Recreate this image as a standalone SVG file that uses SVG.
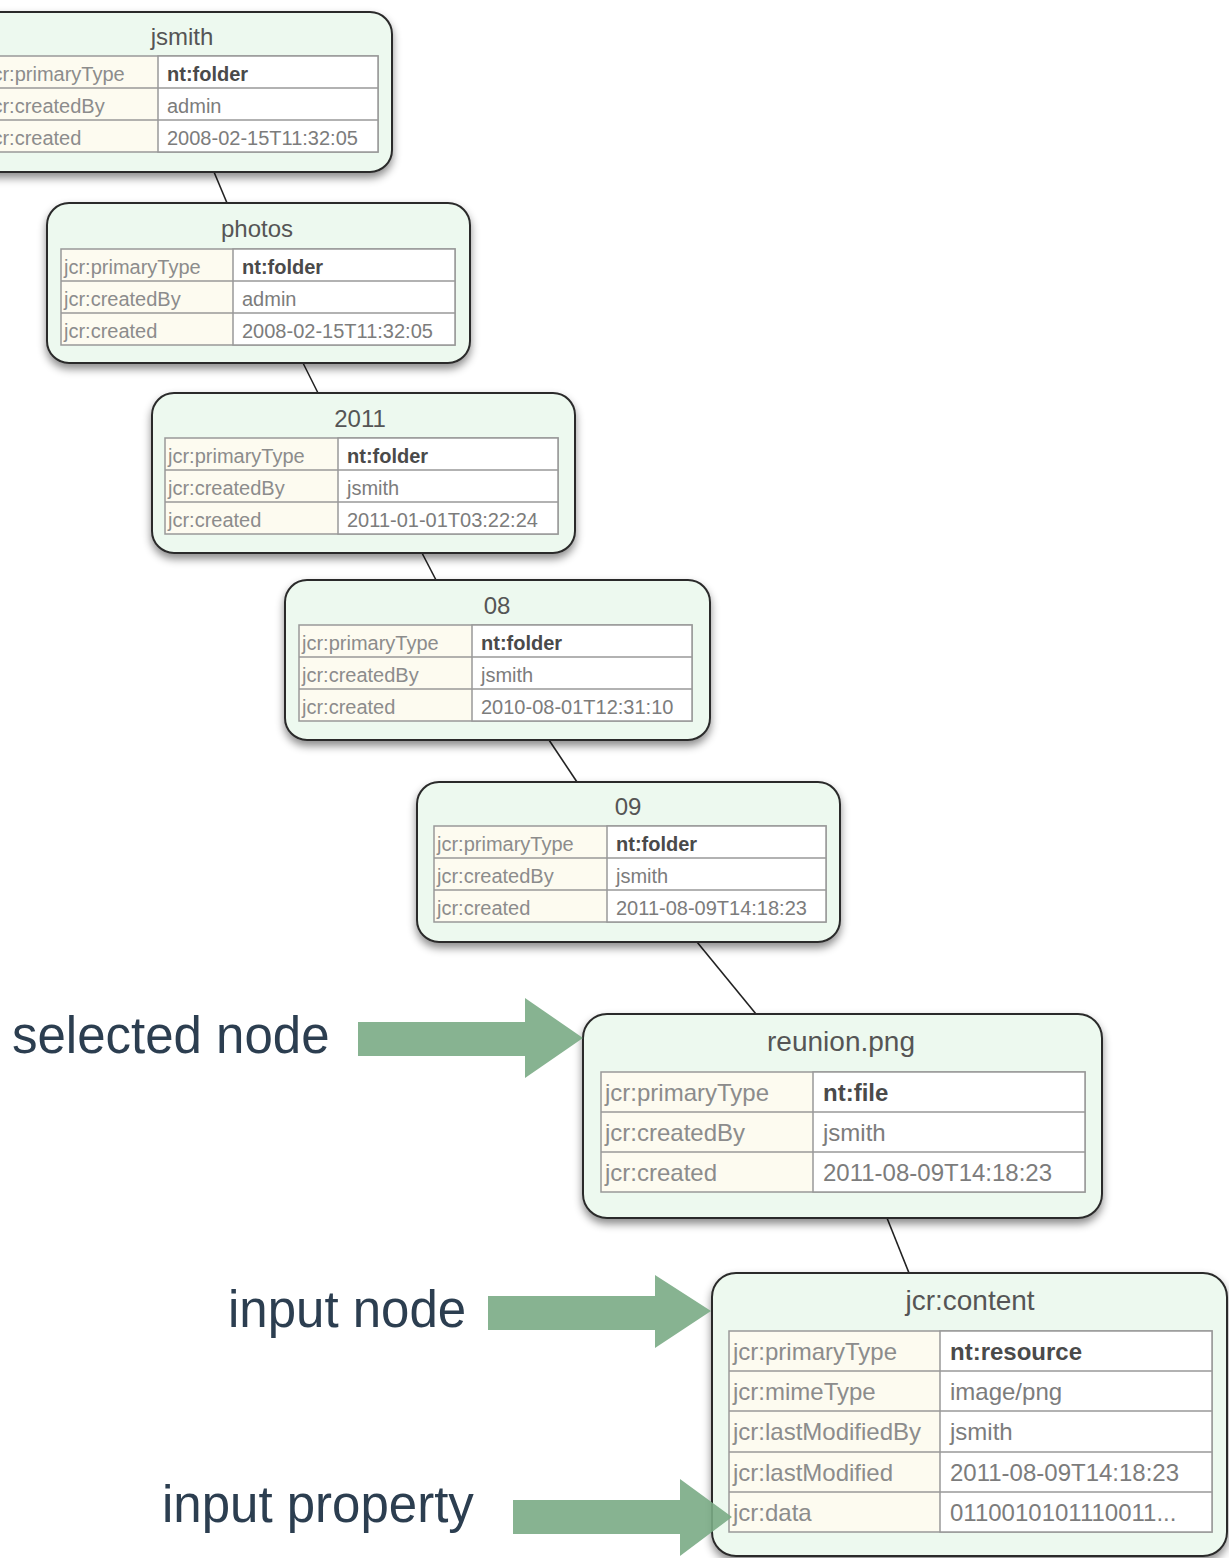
<svg xmlns="http://www.w3.org/2000/svg" width="1229" height="1558" viewBox="0 0 1229 1558">
<style>
.box{fill:#edf9ef;stroke:#2b2b2b;stroke-width:2}
.tbl{fill:#fdfbf0;stroke:#999;stroke-width:1.5}
.val{fill:#ffffff;stroke:#999;stroke-width:1.5}
.ln{stroke:#999;stroke-width:1.5}
.t{font-family:"Liberation Sans",Arial,sans-serif;fill:#555;text-anchor:middle}
.k{font-family:"Liberation Sans",Arial,sans-serif;fill:#8c8c8c}
.v{font-family:"Liberation Sans",Arial,sans-serif;fill:#7c7c7c}
.b{font-family:"Liberation Sans",Arial,sans-serif;fill:#4a4a4a;font-weight:bold}
.s{font-size:20px}
.st{font-size:24px}
.l{font-size:24px}
.lt{font-size:28px}
.lab{font-family:"Liberation Sans",Arial,sans-serif;font-size:51px;fill:#2c3e50}
.edge{stroke:#222;stroke-width:1.6;fill:none}
.arr{fill:#7aab85;opacity:0.9}
</style>
<defs>
<filter id="sh" x="-10%" y="-10%" width="120%" height="130%">
<feDropShadow dx="0" dy="5" stdDeviation="4" flood-color="#000" flood-opacity="0.45"/>
</filter>
</defs>
<rect width="1229" height="1558" fill="#ffffff"/>

<g id="connectors">
<line class="edge" x1="214" y1="172" x2="227" y2="203"/>
<line class="edge" x1="303" y1="363" x2="318" y2="393"/>
<line class="edge" x1="422" y1="553" x2="436" y2="580"/>
<line class="edge" x1="549" y1="740" x2="577" y2="782"/>
<line class="edge" x1="697" y1="942" x2="756" y2="1014"/>
<line class="edge" x1="887" y1="1218" x2="909" y2="1273"/>
</g>

<g id="node-jsmith">
<rect class="box" x="-28" y="12" width="420" height="160" rx="22" filter="url(#sh)"/>
<text class="t st" x="182" y="45">jsmith</text>
<rect class="tbl" x="-15" y="56" width="393" height="96"/>
<rect class="val" x="158" y="56" width="220" height="96"/>
<line class="ln" x1="-15" y1="88" x2="378" y2="88"/>
<line class="ln" x1="-15" y1="120" x2="378" y2="120"/>
<text class="k s" x="-12" y="81">jcr:primaryType</text>
<text class="k s" x="-12" y="113">jcr:createdBy</text>
<text class="k s" x="-12" y="145">jcr:created</text>
<text class="b s" x="167" y="81">nt:folder</text>
<text class="v s" x="167" y="113">admin</text>
<text class="v s" x="167" y="145">2008-02-15T11:32:05</text>
</g>

<g id="node-photos">
<rect class="box" x="47" y="203" width="423" height="160" rx="22" filter="url(#sh)"/>
<text class="t st" x="257" y="237">photos</text>
<rect class="tbl" x="61" y="249" width="394" height="96"/>
<rect class="val" x="233" y="249" width="222" height="96"/>
<line class="ln" x1="61" y1="281" x2="455" y2="281"/>
<line class="ln" x1="61" y1="313" x2="455" y2="313"/>
<text class="k s" x="64" y="274">jcr:primaryType</text>
<text class="k s" x="64" y="306">jcr:createdBy</text>
<text class="k s" x="64" y="338">jcr:created</text>
<text class="b s" x="242" y="274">nt:folder</text>
<text class="v s" x="242" y="306">admin</text>
<text class="v s" x="242" y="338">2008-02-15T11:32:05</text>
</g>

<g id="node-2011">
<rect class="box" x="152" y="393" width="423" height="160" rx="22" filter="url(#sh)"/>
<text class="t st" x="360" y="427">2011</text>
<rect class="tbl" x="165" y="438" width="393" height="96"/>
<rect class="val" x="338" y="438" width="220" height="96"/>
<line class="ln" x1="165" y1="470" x2="558" y2="470"/>
<line class="ln" x1="165" y1="502" x2="558" y2="502"/>
<text class="k s" x="168" y="463">jcr:primaryType</text>
<text class="k s" x="168" y="495">jcr:createdBy</text>
<text class="k s" x="168" y="527">jcr:created</text>
<text class="b s" x="347" y="463">nt:folder</text>
<text class="v s" x="347" y="495">jsmith</text>
<text class="v s" x="347" y="527">2011-01-01T03:22:24</text>
</g>

<g id="node-08">
<rect class="box" x="285" y="580" width="425" height="160" rx="22" filter="url(#sh)"/>
<text class="t st" x="497" y="614">08</text>
<rect class="tbl" x="299" y="625" width="393" height="96"/>
<rect class="val" x="472" y="625" width="220" height="96"/>
<line class="ln" x1="299" y1="657" x2="692" y2="657"/>
<line class="ln" x1="299" y1="689" x2="692" y2="689"/>
<text class="k s" x="302" y="650">jcr:primaryType</text>
<text class="k s" x="302" y="682">jcr:createdBy</text>
<text class="k s" x="302" y="714">jcr:created</text>
<text class="b s" x="481" y="650">nt:folder</text>
<text class="v s" x="481" y="682">jsmith</text>
<text class="v s" x="481" y="714">2010-08-01T12:31:10</text>
</g>

<g id="node-09">
<rect class="box" x="417" y="782" width="423" height="160" rx="22" filter="url(#sh)"/>
<text class="t st" x="628" y="815">09</text>
<rect class="tbl" x="434" y="826" width="392" height="96"/>
<rect class="val" x="607" y="826" width="219" height="96"/>
<line class="ln" x1="434" y1="858" x2="826" y2="858"/>
<line class="ln" x1="434" y1="890" x2="826" y2="890"/>
<text class="k s" x="437" y="851">jcr:primaryType</text>
<text class="k s" x="437" y="883">jcr:createdBy</text>
<text class="k s" x="437" y="915">jcr:created</text>
<text class="b s" x="616" y="851">nt:folder</text>
<text class="v s" x="616" y="883">jsmith</text>
<text class="v s" x="616" y="915">2011-08-09T14:18:23</text>
</g>

<g id="node-reunion">
<rect class="box" x="583" y="1014" width="519" height="204" rx="24" filter="url(#sh)"/>
<text class="t lt" x="841" y="1051">reunion.png</text>
<rect class="tbl" x="601" y="1072" width="484" height="120"/>
<rect class="val" x="813" y="1072" width="272" height="120"/>
<line class="ln" x1="601" y1="1112" x2="1085" y2="1112"/>
<line class="ln" x1="601" y1="1152" x2="1085" y2="1152"/>
<text class="k l" x="605" y="1101">jcr:primaryType</text>
<text class="k l" x="605" y="1141">jcr:createdBy</text>
<text class="k l" x="605" y="1181">jcr:created</text>
<text class="b l" x="823" y="1101">nt:file</text>
<text class="v l" x="823" y="1141">jsmith</text>
<text class="v l" x="823" y="1181">2011-08-09T14:18:23</text>
</g>

<g id="node-jcr-content">
<rect class="box" x="712" y="1273" width="515" height="283" rx="24" filter="url(#sh)"/>
<text class="t lt" x="970" y="1310">jcr:content</text>
<rect class="tbl" x="729" y="1331" width="483" height="201"/>
<rect class="val" x="940" y="1331" width="272" height="201"/>
<line class="ln" x1="729" y1="1371" x2="1212" y2="1371"/>
<line class="ln" x1="729" y1="1411" x2="1212" y2="1411"/>
<line class="ln" x1="729" y1="1452" x2="1212" y2="1452"/>
<line class="ln" x1="729" y1="1492" x2="1212" y2="1492"/>
<text class="k l" x="733" y="1360">jcr:primaryType</text>
<text class="k l" x="733" y="1400">jcr:mimeType</text>
<text class="k l" x="733" y="1440">jcr:lastModifiedBy</text>
<text class="k l" x="733" y="1481">jcr:lastModified</text>
<text class="k l" x="733" y="1521">jcr:data</text>
<text class="b l" x="950" y="1360">nt:resource</text>
<text class="v l" x="950" y="1400">image/png</text>
<text class="v l" x="950" y="1440">jsmith</text>
<text class="v l" x="950" y="1481">2011-08-09T14:18:23</text>
<text class="v l" x="950" y="1521">0110010101110011...</text>
</g>

<g id="label-selected">
<text class="lab" x="12" y="1053">selected node</text>
<polygon class="arr" points="358,1022 525,1022 525,998 583,1038 525,1078 525,1056 358,1056"/>
</g>
<g id="label-input-node">
<text class="lab" x="228" y="1327">input node</text>
<polygon class="arr" points="488,1296 655,1296 655,1275 711,1311 655,1348 655,1330 488,1330"/>
</g>
<g id="label-input-property">
<text class="lab" x="162" y="1522">input property</text>
<polygon class="arr" points="513,1500 680,1500 680,1479 732,1517 680,1556 680,1534 513,1534"/>
</g>
</svg>
